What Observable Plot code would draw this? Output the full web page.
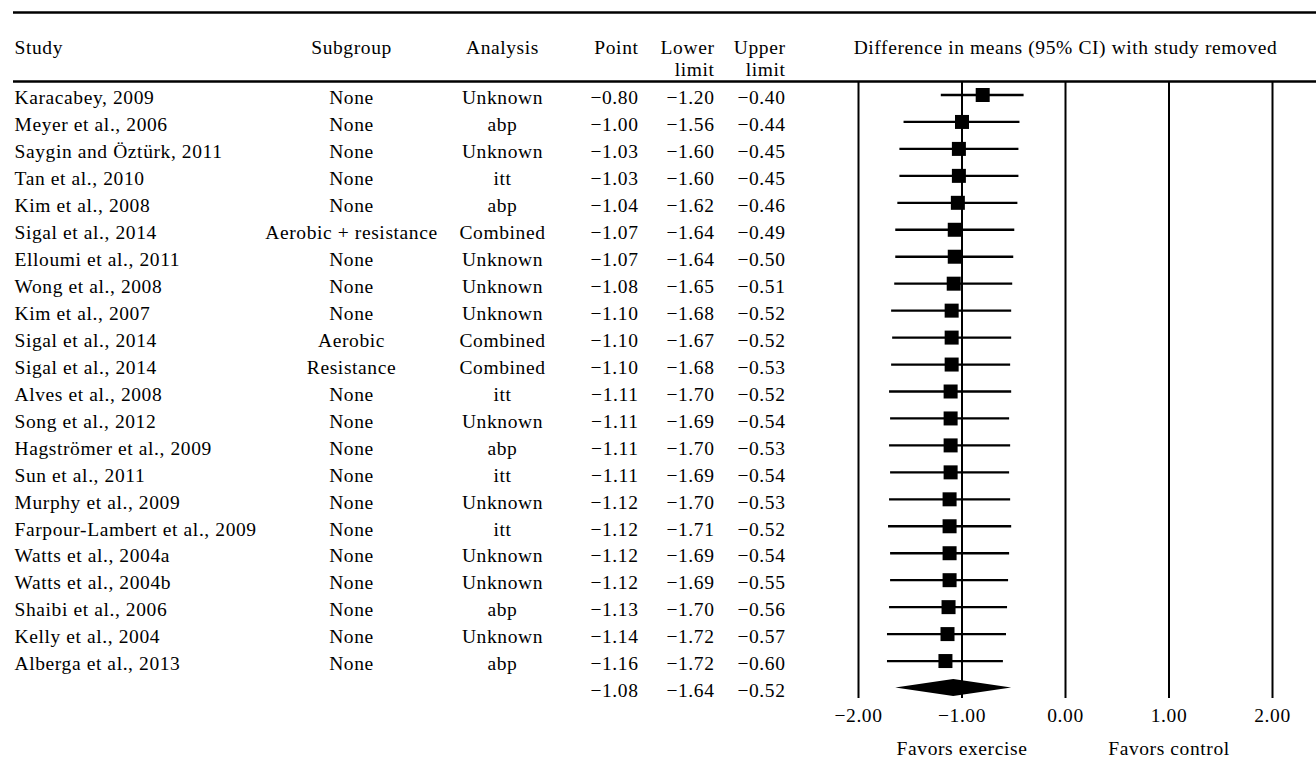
<!DOCTYPE html>
<html>
<head>
<meta charset="utf-8">
<script src="https://cdn.jsdelivr.net/npm/d3@7"></script>
<script src="https://cdn.jsdelivr.net/npm/@observablehq/plot@0.6"></script>
<style>
  html, body { margin: 0; padding: 0; background: #fff; }
  #chart svg { display: block; }
</style>
</head>
<body>
<div id="chart"></div>
<script>
// ---------------- data ----------------
const studies = [
  "Karacabey, 2009", "Meyer et al., 2006", "Saygin and Öztürk, 2011", "Tan et al., 2010",
  "Kim et al., 2008", "Sigal et al., 2014", "Elloumi et al., 2011", "Wong et al., 2008",
  "Kim et al., 2007", "Sigal et al., 2014", "Sigal et al., 2014", "Alves et al., 2008",
  "Song et al., 2012", "Hagströmer et al., 2009", "Sun et al., 2011", "Murphy et al., 2009",
  "Farpour-Lambert et al., 2009", "Watts et al., 2004a", "Watts et al., 2004b",
  "Shaibi et al., 2006", "Kelly et al., 2004", "Alberga et al., 2013"
];
const subgroups = [
  "None", "None", "None", "None", "None", "Aerobic + resistance", "None", "None",
  "None", "Aerobic", "Resistance", "None", "None", "None", "None", "None",
  "None", "None", "None", "None", "None", "None"
];
const analyses = [
  "Unknown", "abp", "Unknown", "itt", "abp", "Combined", "Unknown", "Unknown",
  "Unknown", "Combined", "Combined", "itt", "Unknown", "abp", "itt", "Unknown",
  "itt", "Unknown", "Unknown", "abp", "Unknown", "abp"
];
const points = [-0.80, -1.00, -1.03, -1.03, -1.04, -1.07, -1.07, -1.08, -1.10, -1.10, -1.10,
                -1.11, -1.11, -1.11, -1.11, -1.12, -1.12, -1.12, -1.12, -1.13, -1.14, -1.16];
const lowers = [-1.20, -1.56, -1.60, -1.60, -1.62, -1.64, -1.64, -1.65, -1.68, -1.67, -1.68,
                -1.70, -1.69, -1.70, -1.69, -1.70, -1.71, -1.69, -1.69, -1.70, -1.72, -1.72];
const uppers = [-0.40, -0.44, -0.45, -0.45, -0.46, -0.49, -0.50, -0.51, -0.52, -0.52, -0.53,
                -0.52, -0.54, -0.53, -0.54, -0.53, -0.52, -0.54, -0.55, -0.56, -0.57, -0.60];
const summaryPoint = -1.08, summaryLower = -1.64, summaryUpper = -0.52;

const xTicks = [-2, -1, 0, 1, 2];
const headerLine1 = ["Study", "Subgroup", "Analysis", "Point", "Lower", "Upper"];
const headerLine2 = ["", "", "", "", "limit", "limit"];
const plotTitle = "Difference in means (95% CI) with study removed";
const favorLabels = ["Favors exercise", "Favors control"];
const favorAt = [-1, 1];

// ---------------- layout ----------------
const W = 1316, H = 769;
const frameLeft = 858, marginRight = 44, marginTop = 82, marginBottom = 71;
const rowRange = [94.5, 687.5];
const colLayout = [
  {x: 14,  anchor: "start"},
  {x: 351, anchor: "middle"},
  {x: 502, anchor: "middle"},
  {x: 638, anchor: "end"},
  {x: 714, anchor: "end"},
  {x: 785, anchor: "end"}
];
const FONT = "'Liberation Serif', 'Times New Roman', serif";

// ---------------- build ----------------
const fmt = d3.format(".2f");
const rows = studies.map((s, i) => ({
  i, study: s, subgroup: subgroups[i], analysis: analyses[i],
  point: points[i], lower: lowers[i], upper: uppers[i]
}));
const summary = {i: studies.length, study: "", subgroup: "", analysis: "",
  point: summaryPoint, lower: summaryLower, upper: summaryUpper};
const tableRows = [...rows, summary];
const cells = tableRows.flatMap(r =>
  [r.study, r.subgroup, r.analysis, fmt(r.point), fmt(r.lower), fmt(r.upper)]
    .map((t, c) => ({i: r.i, c, t})));

const columnMarks = colLayout.map((col, c) =>
  Plot.text(cells.filter(d => d.c === c), {
    y: "i", text: "t", frameAnchor: "left", lineAnchor: "middle",
    dx: col.x - frameLeft, dy: 3, textAnchor: col.anchor
  }));
const headerMarks = colLayout.flatMap((col, c) => [
  Plot.text([headerLine1[c]], {frameAnchor: "top-left", lineAnchor: "middle", dx: col.x - frameLeft, dy: -35, textAnchor: col.anchor}),
  Plot.text([headerLine2[c]], {frameAnchor: "top-left", lineAnchor: "middle", dx: col.x - frameLeft, dy: -13, textAnchor: col.anchor})
]);

function tableRules(index, scales, values, dims) {
  const g = d3.create("svg:g").attr("stroke", "black").attr("stroke-width", 2.5);
  g.append("line").attr("x1", 13).attr("x2", dims.width).attr("y1", 12.5).attr("y2", 12.5);
  g.append("line").attr("x1", 13).attr("x2", dims.width)
    .attr("y1", dims.marginTop - 0.5).attr("y2", dims.marginTop - 0.5);
  return g.node();
}
function diamond(index, scales, values, dims) {
  const x = scales.x, y = scales.y;
  const cy = y(summary.i), h = 8.5;
  const pts = [[x(summary.lower), cy], [x(summary.point), cy - h],
               [x(summary.upper), cy], [x(summary.point), cy + h]];
  return d3.create("svg:path")
    .attr("d", "M" + pts.map(p => p.join(",")).join("L") + "Z")
    .attr("fill", "black").node();
}

const chart = Plot.plot({
  width: W, height: H,
  marginLeft: frameLeft, marginRight, marginTop, marginBottom,
  style: {fontFamily: FONT, fontSize: "19.5px", color: "black", background: "white", letterSpacing: "0.6px"},
  x: {domain: [-2, 2]},
  y: {type: "linear", domain: [0, tableRows.length - 1], range: rowRange, axis: null},
  marks: [
    tableRules,
    Plot.ruleX(xTicks, {stroke: "black", strokeWidth: 2}),
    Plot.ruleY(rows, {y: "i", x1: "lower", x2: "upper", stroke: "black", strokeWidth: 2.3}),
    Plot.dot(rows, {x: "point", y: "i", symbol: "square", r: 7.9, fill: "black"}),
    diamond,
    Plot.axisX({ticks: xTicks, tickFormat: fmt, tickSize: 0, tickPadding: 10, label: null}),
    Plot.text(favorLabels, {x: favorAt, text: d => d, frameAnchor: "bottom", lineAnchor: "middle", dy: 50}),
    Plot.text([plotTitle], {frameAnchor: "top", lineAnchor: "middle", dy: -35}),
    ...headerMarks,
    ...columnMarks
  ]
});
document.getElementById("chart").appendChild(chart);
</script>
</body>
</html>
